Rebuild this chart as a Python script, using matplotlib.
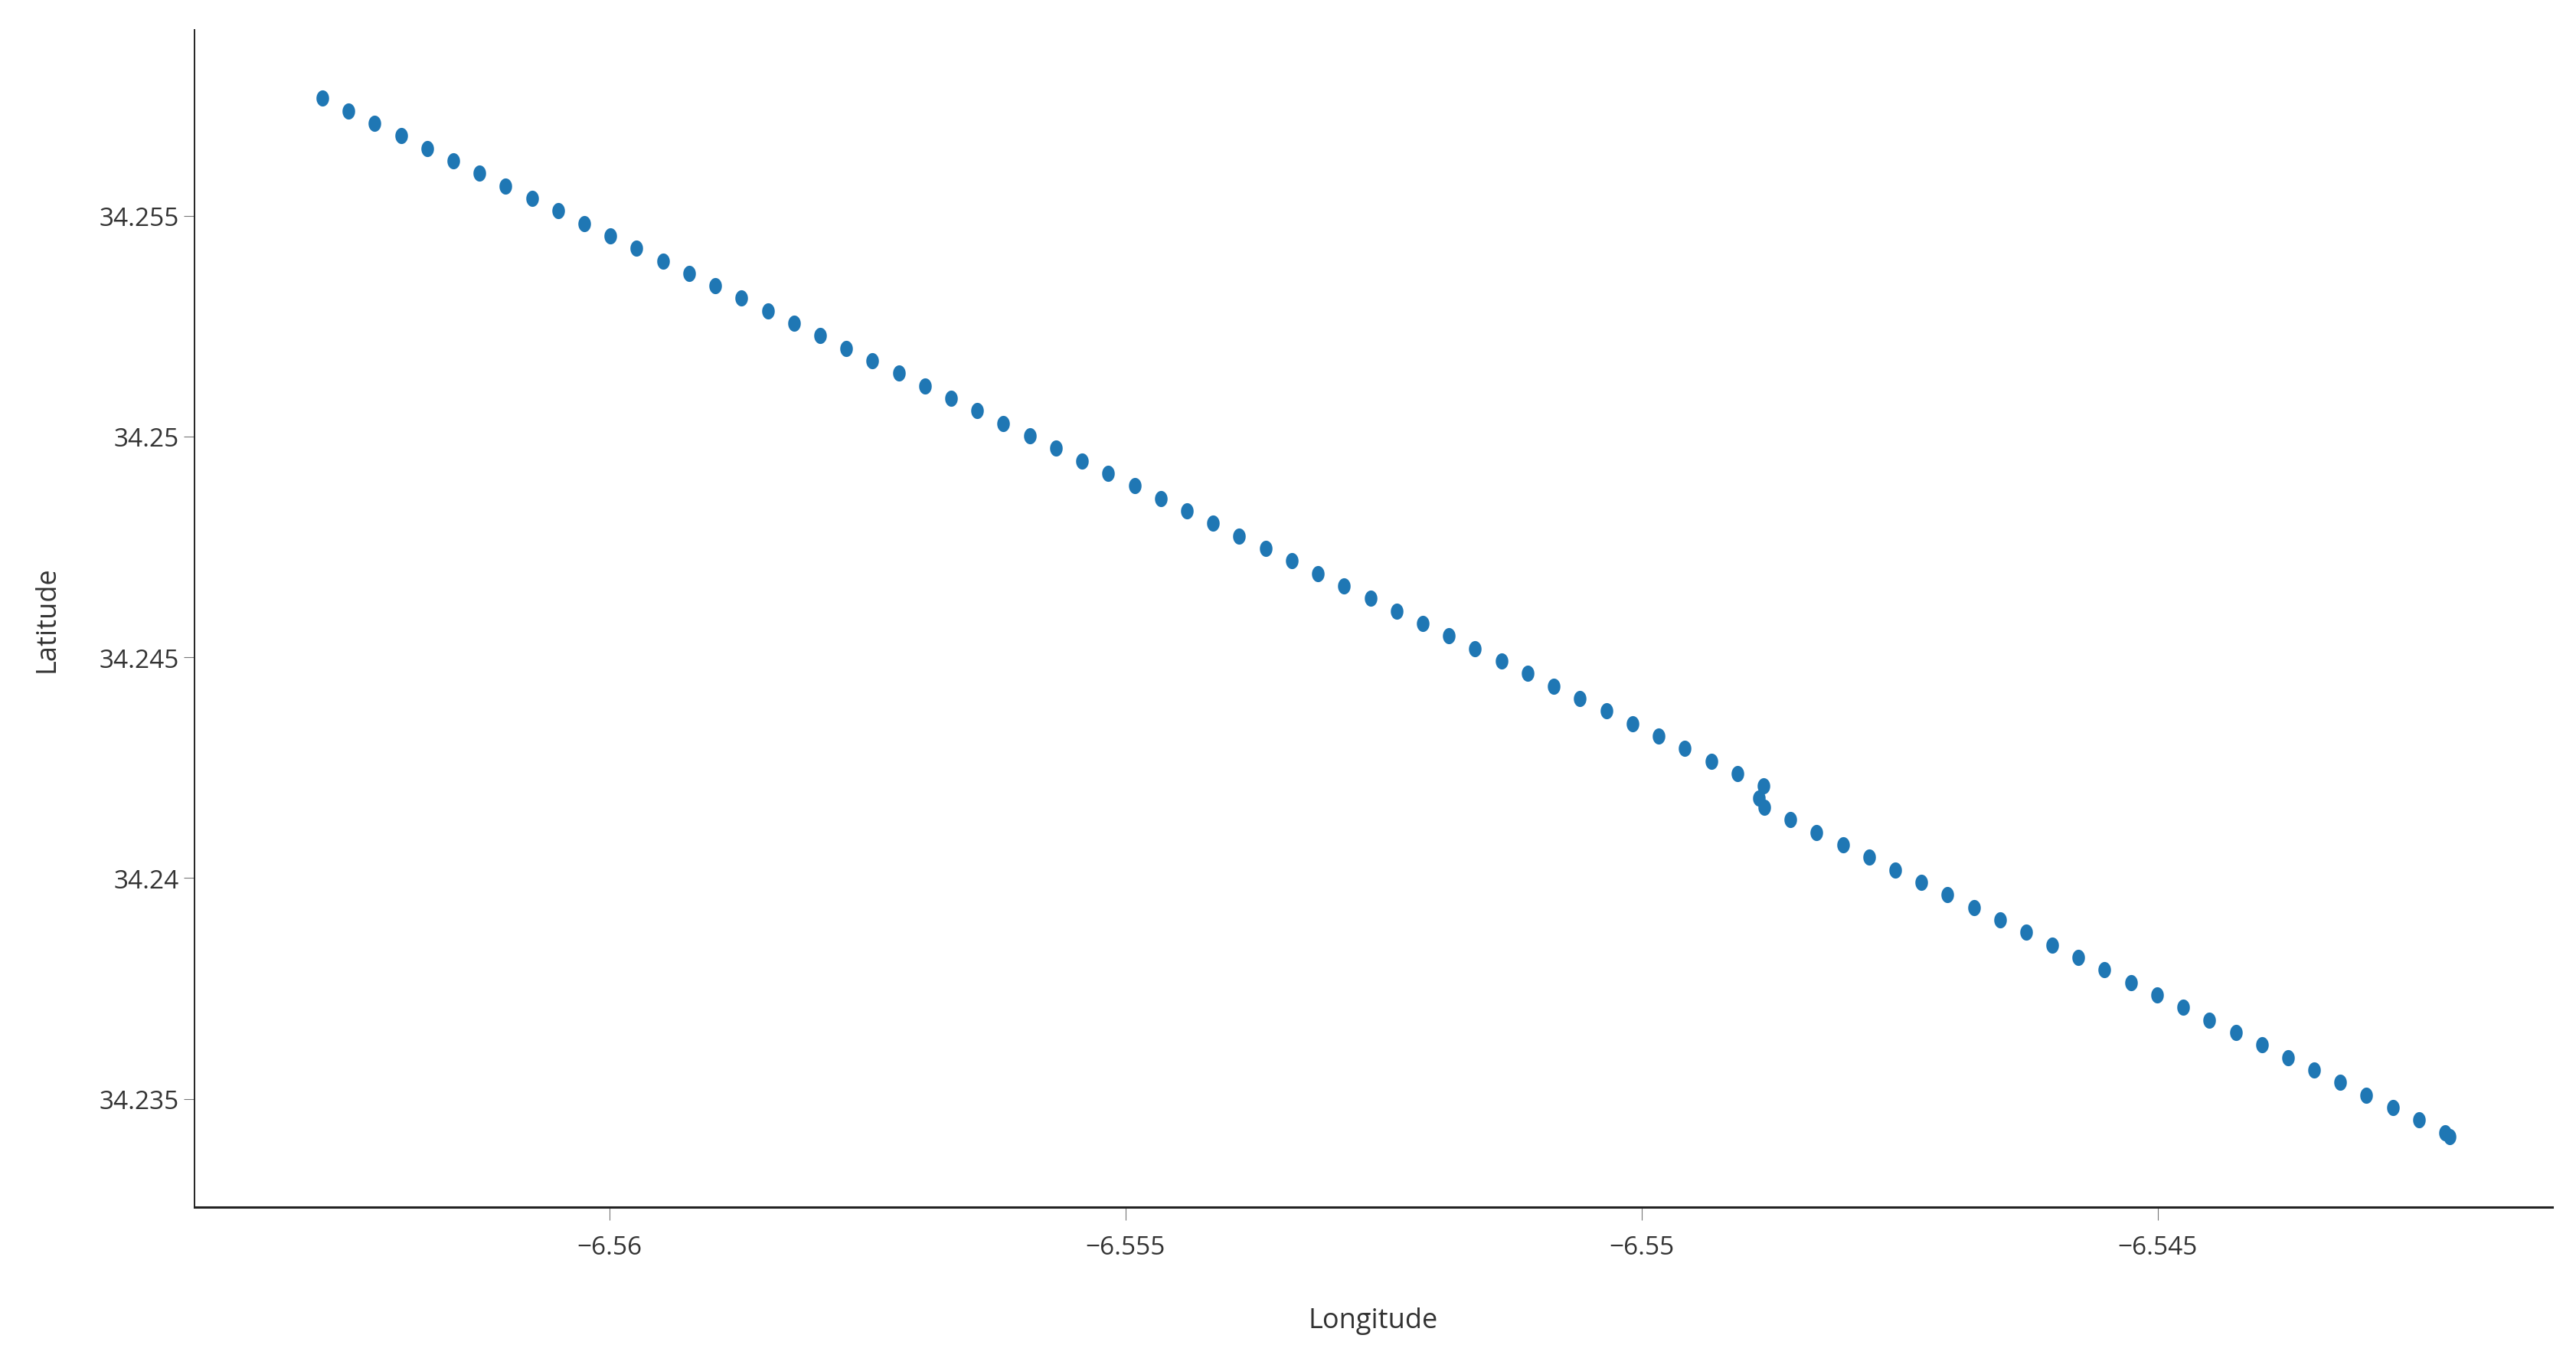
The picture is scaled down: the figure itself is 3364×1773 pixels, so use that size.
import matplotlib
matplotlib.use("Agg")
import matplotlib.pyplot as plt
import numpy as np
from matplotlib.path import Path

# track points (longitude, latitude)
lon = [
    -6.562782, -6.562528, -6.562274, -6.562020, -6.561767, -6.561513, -6.561259, -6.561005,
    -6.560751, -6.560497, -6.560243, -6.559990, -6.559736, -6.559482, -6.559228, -6.558974,
    -6.558720, -6.558466, -6.558213, -6.557959, -6.557705, -6.557451, -6.557197, -6.556943,
    -6.556689, -6.556436, -6.556182, -6.555928, -6.555674, -6.555420, -6.555166, -6.554912,
    -6.554659, -6.554405, -6.554151, -6.553897, -6.553643, -6.553389, -6.553135, -6.552882,
    -6.552628, -6.552374, -6.552120, -6.551866, -6.551612, -6.551358, -6.551104, -6.550851,
    -6.550597, -6.550343, -6.550089, -6.549835, -6.549581, -6.549327, -6.549074, -6.548820,
    -6.548866,
    -6.548812, -6.548558, -6.548305, -6.548051, -6.547797, -6.547543, -6.547290, -6.547036,
    -6.546782, -6.546529, -6.546275, -6.546021, -6.545768, -6.545514, -6.545260, -6.545006,
    -6.544753, -6.544499, -6.544245, -6.543992, -6.543738, -6.543484, -6.543231, -6.542977,
    -6.542723, -6.542469, -6.542216,
    -6.542174,
]
lat = [
    34.257661, 34.257378, 34.257095, 34.256811, 34.256528, 34.256245, 34.255962, 34.255678,
    34.255395, 34.255112, 34.254828, 34.254545, 34.254262, 34.253979, 34.253695, 34.253412,
    34.253129, 34.252845, 34.252562, 34.252279, 34.251995, 34.251712, 34.251429, 34.251146,
    34.250862, 34.250579, 34.250296, 34.250012, 34.249729, 34.249446, 34.249162, 34.248879,
    34.248596, 34.248312, 34.248029, 34.247746, 34.247463, 34.247179, 34.246896, 34.246613,
    34.246329, 34.246046, 34.245763, 34.245479, 34.245196, 34.244913, 34.244630, 34.244346,
    34.244063, 34.243780, 34.243496, 34.243213, 34.242930, 34.242646, 34.242363, 34.242080,
    34.241804,
    34.241601, 34.241318, 34.241035, 34.240751, 34.240468, 34.240185, 34.239901, 34.239618,
    34.239335, 34.239051, 34.238768, 34.238485, 34.238202, 34.237918, 34.237635, 34.237352,
    34.237068, 34.236785, 34.236502, 34.236218, 34.235935, 34.235652, 34.235369, 34.235085,
    34.234802, 34.234519, 34.234235,
    34.234141,
]

x_ticks = [-6.56, -6.555, -6.55, -6.545]
x_tick_labels = ["\u22126.56", "\u22126.555", "\u22126.55", "\u22126.545"]
y_ticks = [34.235, 34.24, 34.245, 34.25, 34.255]
y_tick_labels = ["34.235", "34.24", "34.245", "34.25", "34.255"]

plt.rcParams['font.family'] = ['Open Sans', 'DejaVu Sans']

# slightly tall ellipse marker, like the reference dots
t = np.linspace(0, 2 * np.pi, 40)
dot = Path(np.column_stack([0.78 * np.cos(t), np.sin(t)]), closed=True)

fig = plt.figure(figsize=(16.82, 8.87), dpi=200)
ax = fig.add_axes([0.0754, 0.1112, 0.9153, 0.8663])

ax.scatter(lon, lat, s=58, marker=dot, color="#1f77b4", linewidths=0)

ax.set_xlim(-6.564022, -6.541180)
ax.set_ylim(34.232550, 34.259211)

ax.set_xticks(x_ticks)
ax.set_xticklabels(x_tick_labels)
ax.set_yticks(y_ticks)
ax.set_yticklabels(y_tick_labels)

for side in ["top", "right"]:
    ax.spines[side].set_visible(False)
ax.spines["left"].set_linewidth(0.7)
ax.spines["bottom"].set_linewidth(1.1)
ax.spines["left"].set_color("#222222")
ax.spines["bottom"].set_color("#222222")

ax.tick_params(axis="x", length=6, width=0.4, color="#777777", pad=7,
               labelsize=12, labelcolor="#333333")
ax.tick_params(axis="y", length=5, width=0.4, color="#777777", pad=2,
               labelsize=12, labelcolor="#333333")

ax.set_xlabel("Longitude", fontsize=13, color="#333333", labelpad=22)
ax.set_ylabel("Latitude", fontsize=13, color="#333333", labelpad=18)

fig.savefig("out.png", dpi=200)
